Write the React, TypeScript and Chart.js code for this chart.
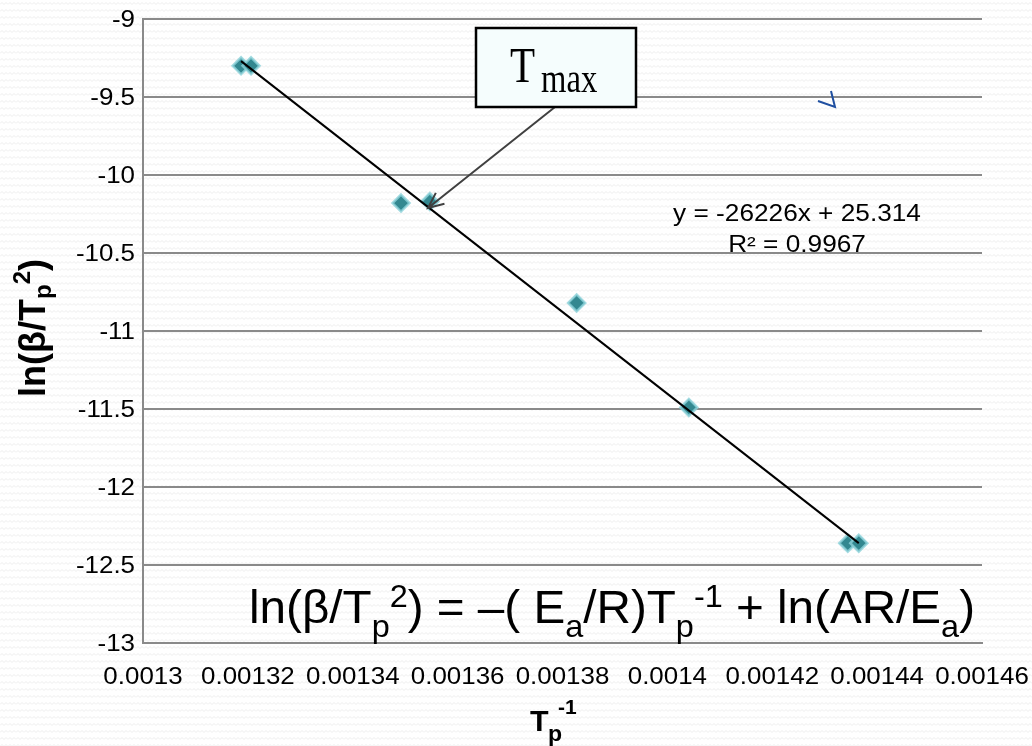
import React, { useEffect, useRef } from 'react';
import { Chart, registerables } from 'chart.js';

Chart.register(...registerables);

// ---- data ----
const xValues = [0.0013187, 0.0013206, 0.0013492, 0.0013547, 0.0013827, 0.0014041, 0.0014344, 0.0014365];
const yValues = [-9.3, -9.3, -10.18, -10.17, -10.82, -11.49, -12.36, -12.36];

const xTickValues = [0.0013, 0.00132, 0.00134, 0.00136, 0.00138, 0.0014, 0.00142, 0.00144, 0.00146];
const xTickLabels = ['0.0013', '0.00132', '0.00134', '0.00136', '0.00138', '0.0014', '0.00142', '0.00144', '0.00146'];
const yTickValues = [-13, -12.5, -12, -11.5, -11, -10.5, -10, -9.5, -9];
const yTickLabels = ['-13', '-12.5', '-12', '-11.5', '-11', '-10.5', '-10', '-9.5', '-9'];

const trendSlope = -26226;
const trendIntercept = 25.314;
const trendEquation = 'y = -26226x + 25.314';
const trendR2 = 'R² = 0.9967';
const annotationLabel = 'T';
const annotationSub = 'max';

const SANS = '"Liberation Sans", Arial, sans-serif';
const SERIF = '"Liberation Serif", "Times New Roman", serif';
const GRID = '#8a8a8a';

type Seg = { t: string; size: number; dy: number; bold?: boolean };

function segFont(s: Seg) {
  return `${s.bold ? 'bold ' : ''}${s.size}px ${SANS}`;
}

function measureSegs(ctx: CanvasRenderingContext2D, segs: Seg[]) {
  let w = 0;
  for (const s of segs) {
    ctx.font = segFont(s);
    w += ctx.measureText(s.t).width;
  }
  return w;
}

function drawSegs(ctx: CanvasRenderingContext2D, segs: Seg[], x: number, y: number, sx: number, sy: number, align: 'left' | 'center') {
  ctx.save();
  ctx.translate(x, y);
  ctx.scale(sx, sy);
  ctx.textAlign = 'left';
  ctx.textBaseline = 'alphabetic';
  const total = measureSegs(ctx, segs);
  let cx = align === 'center' ? -total / 2 : 0;
  for (const s of segs) {
    ctx.font = segFont(s);
    ctx.fillText(s.t, cx, s.dy);
    cx += ctx.measureText(s.t).width;
  }
  ctx.restore();
}

function drawText(ctx: CanvasRenderingContext2D, text: string, x: number, y: number, font: string, sx: number, sy: number, align: CanvasTextAlign, baseline: CanvasTextBaseline) {
  ctx.save();
  ctx.translate(x, y);
  ctx.scale(sx, sy);
  ctx.font = font;
  ctx.textAlign = align;
  ctx.textBaseline = baseline;
  ctx.fillText(text, 0, 0);
  ctx.restore();
}

const backgroundPlugin = {
  id: 'bgPattern',
  beforeDraw(chart: any) {
    const ctx: CanvasRenderingContext2D = chart.ctx;
    const pc = document.createElement('canvas');
    pc.width = 8;
    pc.height = 7;
    const p = pc.getContext('2d')!;
    p.fillStyle = '#ffffff';
    p.fillRect(0, 0, 8, 7);
    p.strokeStyle = 'rgba(0,0,0,0.07)';
    p.lineWidth = 1;
    p.beginPath();
    p.moveTo(0, 4.5);
    p.lineTo(2, 2.5);
    p.lineTo(4, 4.5);
    p.lineTo(6, 2.5);
    p.lineTo(8, 4.5);
    p.stroke();
    const pat = ctx.createPattern(pc, 'repeat');
    ctx.save();
    ctx.fillStyle = pat || '#fff';
    ctx.fillRect(0, 0, chart.width, chart.height);
    ctx.restore();
  },
};

const annotationsPlugin = {
  id: 'annotations',
  afterDraw(chart: any) {
    const ctx: CanvasRenderingContext2D = chart.ctx;
    const xs = chart.scales.x;
    const ys = chart.scales.y;
    ctx.save();
    ctx.fillStyle = '#000';

    // tick labels
    const stretch = 1.08;
    xTickValues.forEach((v, i) => {
      drawText(ctx, xTickLabels[i], xs.getPixelForValue(v), 684, `24px ${SANS}`, stretch, 1, 'center', 'alphabetic');
    });
    yTickValues.forEach((v, i) => {
      drawText(ctx, yTickLabels[i], 135, ys.getPixelForValue(v) + 1, `24px ${SANS}`, stretch, 1, 'right', 'middle');
    });

    // x axis title
    drawText(ctx, 'T', 530, 731, `bold 29px ${SANS}`, 1.05, 1, 'left', 'alphabetic');
    drawText(ctx, 'p', 548, 741, `bold 22px ${SANS}`, 1.05, 1, 'left', 'alphabetic');
    drawText(ctx, '-1', 558, 714, `bold 20px ${SANS}`, 1.05, 1, 'left', 'alphabetic');

    // y axis title (rotated)
    ctx.save();
    ctx.translate(45, 328);
    ctx.rotate(-Math.PI / 2);
    drawSegs(ctx, [
      { t: 'ln(β/T', size: 36, dy: 0, bold: true },
      { t: 'p', size: 24, dy: 6, bold: true },
      { t: '2', size: 24, dy: -15, bold: true },
      { t: ')', size: 36, dy: 0, bold: true },
    ], 0, 0, 1, 1.0, 'center');
    ctx.restore();

    // trendline equation
    drawText(ctx, trendEquation, 797, 221, `23px ${SANS}`, 1.14, 1, 'center', 'alphabetic');
    drawText(ctx, trendR2, 797, 252, `23px ${SANS}`, 1.14, 1, 'center', 'alphabetic');

    // formula
    const formula: Seg[] = [
      { t: 'ln(β/T', size: 47, dy: 0 },
      { t: 'p', size: 32, dy: 14 },
      { t: '2', size: 32, dy: -16 },
      { t: ') = –( E', size: 47, dy: 0 },
      { t: 'a', size: 32, dy: 14 },
      { t: '/R)T', size: 47, dy: 0 },
      { t: 'p', size: 32, dy: 14 },
      { t: '-1', size: 32, dy: -16 },
      { t: ' + ln(AR/E', size: 47, dy: 0 },
      { t: 'a', size: 32, dy: 14 },
      { t: ')', size: 47, dy: 0 },
    ];
    const fw = measureSegs(ctx, formula);
    drawSegs(ctx, formula, 249, 623, 726 / fw, 1, 'left');

    // arrow to Tmax point
    const tipX = 428, tipY = 208, fromX = 555, fromY = 107;
    ctx.strokeStyle = '#404040';
    ctx.lineWidth = 2;
    ctx.beginPath();
    ctx.moveTo(fromX, fromY);
    ctx.lineTo(tipX, tipY);
    const ang = Math.atan2(fromY - tipY, fromX - tipX);
    const hl = 17, ha = 0.42;
    ctx.moveTo(tipX + hl * Math.cos(ang + ha), tipY + hl * Math.sin(ang + ha));
    ctx.lineTo(tipX, tipY);
    ctx.lineTo(tipX + hl * Math.cos(ang - ha), tipY + hl * Math.sin(ang - ha));
    ctx.stroke();

    // Tmax box
    ctx.fillStyle = '#f5fdfd';
    ctx.fillRect(476, 28, 160, 79);
    ctx.strokeStyle = '#000';
    ctx.lineWidth = 2.5;
    ctx.strokeRect(476, 28, 160, 79);
    ctx.fillStyle = '#000';
    drawText(ctx, annotationLabel, 510, 82, `41px ${SERIF}`, 1, 1.22, 'left', 'alphabetic');
    drawText(ctx, annotationSub, 541, 92, `32px ${SERIF}`, 1.02, 1.28, 'left', 'alphabetic');

    // small blue mark
    ctx.strokeStyle = '#1f4fa0';
    ctx.lineWidth = 2;
    ctx.beginPath();
    ctx.moveTo(818, 101);
    ctx.lineTo(835, 107);
    ctx.lineTo(831, 91);
    ctx.stroke();

    ctx.restore();
  },
};

export default function App() {
  const ref = useRef<HTMLCanvasElement | null>(null);

  useEffect(() => {
    if (!ref.current) return;
    const xMin = Math.min(...xValues);
    const xMax = Math.max(...xValues);
    const chart = new Chart(ref.current, {
      type: 'scatter',
      data: {
        datasets: [
          {
            type: 'line',
            label: 'trend',
            data: [
              { x: xMin, y: trendSlope * xMin + trendIntercept },
              { x: xMax, y: trendSlope * xMax + trendIntercept },
            ],
            borderColor: '#000',
            borderWidth: 2,
            pointRadius: 0,
            fill: false,
          } as any,
          {
            label: 'data',
            data: xValues.map((x, i) => ({ x, y: yValues[i] })),
            pointStyle: 'rectRot',
            pointRadius: 8.5,
            pointBackgroundColor: '#338890',
            pointBorderColor: 'rgba(140,210,218,0.8)',
            pointBorderWidth: 2.5,
          },
        ],
      },
      options: {
        animation: false,
        responsive: false,
        devicePixelRatio: 1,
        layout: { padding: { left: 0, right: 50, top: 19, bottom: 0 } },
        plugins: { legend: { display: false }, tooltip: { enabled: false } },
        scales: {
          x: {
            type: 'linear',
            min: 0.0013,
            max: 0.00146,
            afterBuildTicks: (s: any) => { s.ticks = xTickValues.map((v) => ({ value: v })); },
            afterFit: (s: any) => { s.height = 103; },
            ticks: { display: false },
            grid: { display: false },
            border: { display: true, color: GRID, width: 2 },
          },
          y: {
            type: 'linear',
            min: -13,
            max: -9,
            afterBuildTicks: (s: any) => { s.ticks = yTickValues.map((v) => ({ value: v })); },
            afterFit: (s: any) => { s.width = 143; },
            ticks: { display: false },
            grid: { color: GRID, lineWidth: 2, drawTicks: false },
            border: { display: true, color: GRID, width: 2 },
          },
        },
      } as any,
      plugins: [backgroundPlugin, annotationsPlugin],
    });
    return () => chart.destroy();
  }, []);

  return (
    <div style={{ position: 'absolute', left: 0, top: 0, width: 1032, height: 746 }}>
      <canvas ref={ref} width={1032} height={746} style={{ width: 1032, height: 746, display: 'block' }} />
    </div>
  );
}
